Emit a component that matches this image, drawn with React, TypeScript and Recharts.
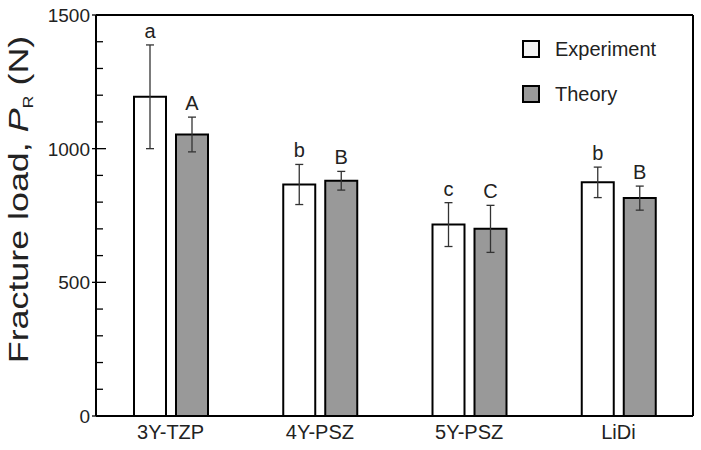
import React from "react"
import { Bar, BarChart, ErrorBar, LabelList, Legend, ReferenceLine, XAxis, YAxis } from "recharts"

// values
const categories = ["3Y-TZP", "4Y-PSZ", "5Y-PSZ", "LiDi"]
const experiment = [1194, 866, 716, 874]
const experimentErr = [194, 75, 82, 57]
const theory = [1053, 880, 700, 815]
const theoryErr = [65, 35, 88, 45]
const experimentLetters = ["a", "b", "c", "b"]
const theoryLetters = ["A", "B", "C", "B"]
const yTicks = [0, 100, 200, 300, 400, 500, 600, 700, 800, 900, 1000, 1100, 1200, 1300, 1400, 1500]

const FONT = "'Liberation Sans', Arial, Helvetica, sans-serif"
const TEXT = "#222"

const data = categories.map((name, i) => ({
  name,
  exp: experiment[i],
  expErr: experimentErr[i],
  expLetter: experimentLetters[i],
  theo: theory[i],
  theoErr: theoryErr[i],
  theoLetter: theoryLetters[i],
}))

const LEFT_MARGIN = 6

const LeftTick = (props: any) => {
  const { x, y, payload } = props
  const v = payload.value
  const major = v % 500 === 0
  const ax = x + LEFT_MARGIN
  return (
    <g>
      <line x1={ax - (major ? 4 : 0)} x2={ax + (major ? 10 : 7)} y1={y} y2={y} stroke="#000" strokeWidth={1.3} />
      {major && (
        <text x={x} y={y} dy="0.36em" textAnchor="end" fontSize={19} fill={TEXT} fontFamily={FONT}>
          {v}
        </text>
      )}
    </g>
  )
}

const RightTick = (props: any) => {
  const { x, y, payload } = props
  const major = payload.value % 500 === 0
  return <line x1={x - (major ? 10 : 7)} x2={x} y1={y} y2={y} stroke="#000" strokeWidth={1.3} />
}

// letter above the error bar; scale taken from the bar's own height/value
const letterLabel = (errKey: "expErr" | "theoErr", valKey: "exp" | "theo") => (props: any) => {
  const { x, y, width, height, value, index } = props
  const row = data[index]
  const pxPerUnit = height / row[valKey]
  const top = y - row[errKey] * pxPerUnit
  return (
    <text x={x + width / 2} y={top - 7} textAnchor="middle" fontSize={20} fill={TEXT} fontFamily={FONT}>
      {value}
    </text>
  )
}

const YLabel = (props: any) => {
  const { viewBox } = props
  const cy = viewBox.y + viewBox.height / 2 - 16
  return (
    <text
      transform={`translate(28, ${cy}) rotate(-90) scale(1.28, 1)`}
      textAnchor="middle"
      fontSize={28}
      fill={TEXT}
      fontFamily={FONT}
    >
      <tspan>Fracture load, </tspan>
      <tspan fontStyle="italic">P</tspan>
      <tspan fontSize={14} dy={5}>R</tspan>
      <tspan dy={-5}> (N)</tspan>
    </text>
  )
}

const legendItems = [
  { label: "Experiment", fill: "#f4f4f4" },
  { label: "Theory", fill: "#999999" },
]

const LegendBox = () => (
  <div style={{ fontFamily: FONT, fontSize: 20, color: TEXT }}>
    {legendItems.map((it) => (
      <div key={it.label} style={{ display: "flex", alignItems: "center", height: 45 }}>
        <div
          style={{
            width: 18,
            height: 18,
            boxSizing: "border-box",
            border: "2px solid #000",
            background: it.fill,
          }}
        />
        <span style={{ marginLeft: 15, lineHeight: "20px" }}>{it.label}</span>
      </div>
    ))}
  </div>
)

export default function App() {
  return (
    <div style={{ position: "absolute", left: 0, top: 0, width: 701, height: 450, background: "#fff" }}>
      <BarChart
        width={701}
        height={450}
        data={data}
        margin={{ top: 15, right: 0, bottom: 0, left: 0 }}
        barSize={32}
        barGap={10}
      >
        <XAxis
          dataKey="name"
          height={34}
          axisLine={{ stroke: "#000", strokeWidth: 2 }}
          tickLine={false}
          tickSize={0}
          tickMargin={9}
          tick={{ fontSize: 20, fill: TEXT, fontFamily: FONT }}
        />
        <YAxis
          yAxisId="left"
          width={96}
          domain={[0, 1500]}
          ticks={yTicks}
          interval={0}
          axisLine={{ stroke: "#000", strokeWidth: 2 }}
          tickLine={false}
          tickSize={0}
          tickMargin={LEFT_MARGIN}
          tick={<LeftTick />}
          label={<YLabel />}
        />
        <YAxis
          yAxisId="right"
          orientation="right"
          width={8}
          domain={[0, 1500]}
          ticks={yTicks}
          interval={0}
          axisLine={{ stroke: "#000", strokeWidth: 2 }}
          tickLine={false}
          tickSize={0}
          tickMargin={0}
          tick={<RightTick />}
        />
        <ReferenceLine yAxisId="left" y={1500} stroke="#000" strokeWidth={2} />
        <Legend
          layout="vertical"
          align="center"
          verticalAlign="middle"
          wrapperStyle={{ top: 26, left: 522, width: 170 }}
          content={<LegendBox />}
        />
        <Bar yAxisId="left" dataKey="exp" fill="#ffffff" stroke="#000" strokeWidth={2} isAnimationActive={false}>
          <ErrorBar dataKey="expErr" width={4} stroke="#333" strokeWidth={1.3} />
          <LabelList dataKey="expLetter" content={letterLabel("expErr", "exp")} />
        </Bar>
        <Bar yAxisId="left" dataKey="theo" fill="#999999" stroke="#000" strokeWidth={2} isAnimationActive={false}>
          <ErrorBar dataKey="theoErr" width={4} stroke="#333" strokeWidth={1.3} />
          <LabelList dataKey="theoLetter" content={letterLabel("theoErr", "theo")} />
        </Bar>
      </BarChart>
    </div>
  )
}
